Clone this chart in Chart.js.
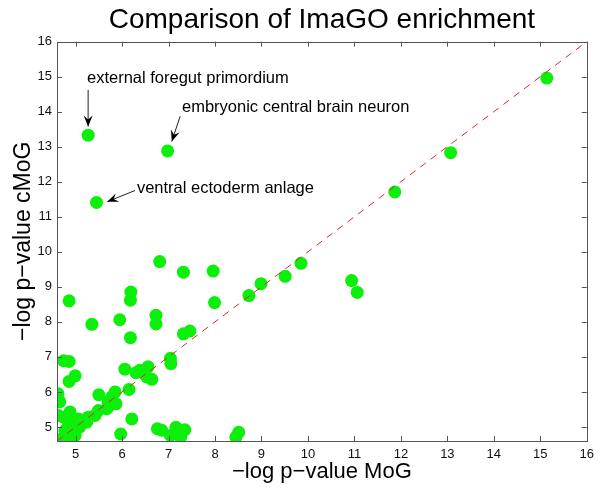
<!DOCTYPE html>
<html>
<head>
<meta charset="utf-8">
<script src="https://cdn.jsdelivr.net/npm/chart.js@4"></script>
<style>
  html, body { margin: 0; padding: 0; background: #fff; }
  #wrap { width: 600px; height: 489px; }
</style>
</head>
<body>
<div id="wrap"><canvas id="enrichChart" width="600" height="489"></canvas></div>
<script>
// -log p-values, one entry per term
const mogValues = [
  5.27, 6.98, 5.45, 15.14, 13.07, 11.87, 10.94, 11.06, 9.85, 9.51,
  8.99, 8.73, 7.96, 7.99, 7.32, 7.32, 7.46, 8.45, 8.51, 6.81,
  6.19, 6.18, 4.86, 5.35, 5.95, 6.73, 6.73, 6.18, 4.74, 4.86,
  7.04, 7.05, 6.06, 6.30, 6.38, 6.56, 6.53, 6.64, 4.99, 4.86,
  6.15, 4.62, 4.66, 5.50, 5.85, 5.78, 5.70, 5.74, 5.67, 5.87,
  5.49, 5.42, 5.27, 5.24, 5.09, 6.21, 5.97, 6.76, 6.85, 7.16,
  7.35, 7.04, 7.26, 4.88, 4.74, 4.84, 4.95, 4.84, 4.77, 4.92,
  4.81, 4.70, 4.88, 4.63, 5.02, 5.06, 4.99
];
const cmogValues = [
  13.33, 12.88, 11.41, 14.96, 12.83, 11.71, 9.18, 8.84, 9.67, 9.30,
  9.09, 8.75, 9.45, 8.55, 9.42, 7.66, 7.74, 4.71, 4.85, 9.72,
  8.85, 8.62, 8.60, 7.93, 8.06, 8.19, 7.94, 7.55, 6.89, 6.87,
  6.96, 6.81, 6.65, 6.55, 6.62, 6.72, 6.43, 6.36, 6.46, 6.30,
  6.07, 5.95, 5.72, 5.92, 6.00, 5.86, 5.71, 5.62, 5.52, 5.66,
  5.47, 5.33, 5.28, 5.14, 5.00, 5.23, 4.80, 4.95, 4.91, 4.99,
  4.92, 4.76, 4.71, 5.43, 5.28, 5.19, 5.14, 5.00, 4.90, 4.85,
  4.71, 4.66, 4.66, 5.33, 5.09, 5.23, 4.76
];
const xTicks = [5, 6, 7, 8, 9, 10, 11, 12, 13, 14, 15, 16];
const yTicks = [5, 6, 7, 8, 9, 10, 11, 12, 13, 14, 15, 16];
const axisMin = 4.6;
const axisMax = 16;

// labelled terms: text anchor and arrow (from -> to) in data units
const noteTexts = ["external foregut primordium", "embryonic central brain neuron", "ventral ectoderm anlage"];
const noteAnchors = [[5.245, 14.94], [7.29, 14.13], [6.32, 11.80]];
const noteArrows = [
  [[5.27, 14.62], [5.27, 13.58]],
  [[7.25, 13.87], [7.07, 13.15]],
  [[6.28, 11.75], [5.68, 11.43]]
];

const FONT = "'Liberation Sans', Arial, Helvetica, sans-serif";
const points = mogValues.map((x, i) => ({ x: x, y: cmogValues[i] }));

function arrowHead(ctx, x0, y0, x1, y1) {
  const a = Math.atan2(y1 - y0, x1 - x0);
  const len = 11, half = 4.5, notch = 7;
  ctx.save();
  ctx.translate(x1, y1);
  ctx.rotate(a);
  ctx.beginPath();
  ctx.moveTo(0, 0);
  ctx.lineTo(-len, -half);
  ctx.lineTo(-notch, 0);
  ctx.lineTo(-len, half);
  ctx.closePath();
  ctx.fill();
  ctx.restore();
}

const frame = {
  id: "frame",
  afterDatasetsDraw(chart) {
    const { ctx, chartArea: a, scales: { x, y } } = chart;
    ctx.save();
    ctx.strokeStyle = "#555";
    ctx.lineWidth = 1;
    ctx.strokeRect(Math.round(a.left) + 0.5, Math.round(a.top) + 0.5,
      Math.round(a.right - a.left), Math.round(a.bottom - a.top));
    ctx.beginPath();
    const tl = 5;
    xTicks.forEach(v => {
      const px = Math.round(x.getPixelForValue(v)) + 0.5;
      ctx.moveTo(px, a.bottom); ctx.lineTo(px, a.bottom - tl);
      ctx.moveTo(px, a.top); ctx.lineTo(px, a.top + tl);
    });
    yTicks.forEach(v => {
      const py = Math.round(y.getPixelForValue(v)) + 0.5;
      ctx.moveTo(a.left, py); ctx.lineTo(a.left + tl, py);
      ctx.moveTo(a.right, py); ctx.lineTo(a.right - tl, py);
    });
    ctx.stroke();

    // annotations
    ctx.fillStyle = "#000";
    ctx.strokeStyle = "#222";
    ctx.font = "16.5px " + FONT;
    ctx.textAlign = "left";
    ctx.textBaseline = "middle";
    noteTexts.forEach((t, i) => {
      ctx.fillText(t, x.getPixelForValue(noteAnchors[i][0]), y.getPixelForValue(noteAnchors[i][1]));
      const [from, to] = noteArrows[i];
      const x0 = x.getPixelForValue(from[0]), y0 = y.getPixelForValue(from[1]);
      const x1 = x.getPixelForValue(to[0]), y1 = y.getPixelForValue(to[1]);
      ctx.beginPath();
      ctx.moveTo(x0, y0);
      ctx.lineTo(x1, y1);
      ctx.stroke();
      arrowHead(ctx, x0, y0, x1, y1);
    });
    ctx.restore();
  }
};

new Chart(document.getElementById("enrichChart"), {
  type: "scatter",
  data: {
    datasets: [
      {
        type: "line",
        data: [{ x: axisMin, y: axisMin }, { x: axisMax, y: axisMax }],
        borderColor: "#e3242b",
        borderWidth: 1,
        borderDash: [7, 6],
        pointRadius: 0,
        fill: false
      },
      {
        data: points,
        backgroundColor: "#0bef0b",
        borderWidth: 0,
        pointRadius: 6.5,
        pointHoverRadius: 6.5
      }
    ]
  },
  options: {
    responsive: false,
    animation: false,
    events: [],
    layout: { padding: { left: 0, right: 13, top: 0, bottom: 0 }, autoPadding: false },
    plugins: {
      legend: { display: false },
      tooltip: { enabled: false },
      title: {
        display: true,
        fullSize: false,
        text: "Comparison of ImaGO enrichment",
        color: "#000",
        font: { family: FONT, size: 28, weight: "normal" },
        padding: { top: 3, bottom: 5 }
      }
    },
    scales: {
      x: {
        type: "linear",
        min: axisMin,
        max: axisMax,
        afterBuildTicks: s => { s.ticks = xTicks.map(v => ({ value: v })); },
        afterFit: s => { s.height = 48; },
        grid: { display: false, drawTicks: false },
        border: { display: false },
        ticks: { color: "#111", font: { family: FONT, size: 13 }, padding: 6, maxRotation: 0, autoSkip: false },
        title: {
          display: true,
          text: "\u2212log p\u2212value MoG",
          color: "#000",
          font: { family: FONT, size: 22 },
          padding: { top: 0, bottom: 4 }
        }
      },
      y: {
        type: "linear",
        min: axisMin,
        max: axisMax,
        afterBuildTicks: s => { s.ticks = yTicks.map(v => ({ value: v })); },
        afterFit: s => { s.width = 57; },
        grid: { display: false, drawTicks: false },
        border: { display: false },
        ticks: { color: "#111", font: { family: FONT, size: 13 }, padding: 5, autoSkip: false },
        title: {
          display: true,
          text: "\u2212log p\u2212value cMoG",
          color: "#000",
          font: { family: FONT, size: 23 },
          padding: { top: 10, bottom: 0 }
        }
      }
    }
  },
  plugins: [frame]
});
</script>
</body>
</html>
